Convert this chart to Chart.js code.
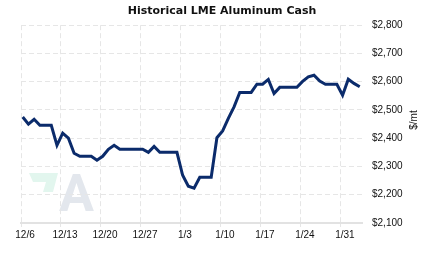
<!DOCTYPE html>
<html>
<head>
<meta charset="utf-8">
<script src="https://cdn.jsdelivr.net/npm/chart.js@4/dist/chart.umd.min.js"></script>
<style>
  html, body { margin: 0; padding: 0; background: #fff; }
  canvas { display: block; }
</style>
</head>
<body>
<canvas id="lmeChart" width="423" height="257"></canvas>
<script>
// daily dates, 12/6 to 2/3 (weekends/holidays carry the last price)
const dates = [
  '12/6','12/7','12/8','12/9','12/10','12/11','12/12','12/13','12/14','12/15',
  '12/16','12/17','12/18','12/19','12/20','12/21','12/22','12/23','12/24','12/25',
  '12/26','12/27','12/28','12/29','12/30','12/31','1/1','1/2','1/3','1/4',
  '1/5','1/6','1/7','1/8','1/9','1/10','1/11','1/12','1/13','1/14',
  '1/15','1/16','1/17','1/18','1/19','1/20','1/21','1/22','1/23','1/24',
  '1/25','1/26','1/27','1/28','1/29','1/30','1/31','2/1','2/2','2/3'
];
const prices = [
  2475, 2450, 2467, 2446, 2446, 2446, 2375, 2418, 2400, 2347,
  2336, 2336, 2336, 2322, 2336, 2361, 2375, 2361, 2361, 2361,
  2361, 2361, 2350, 2371, 2350, 2350, 2350, 2350, 2269, 2230,
  2223, 2262, 2262, 2262, 2402, 2426, 2470, 2511, 2562, 2562,
  2562, 2591, 2591, 2608, 2558, 2580, 2580, 2580, 2580, 2601,
  2617, 2623, 2602, 2591, 2591, 2591, 2552, 2609, 2594, 2582
];
const tickDays = [0, 7, 14, 21, 28, 35, 42, 49, 56];
const yTicks = [2100, 2200, 2300, 2400, 2500, 2600, 2700, 2800];

const chartTitle = 'Historical LME Aluminum Cash';
const unitLabel = '$/mt';

const points = prices.map((p, i) => ({ x: i + 0.3, y: p }));

// faint logo watermark behind the grid
const watermark = {
  id: 'watermark',
  beforeDraw(chart) {
    const ctx = chart.ctx;
    ctx.save();
    ctx.fillStyle = '#e2f6ee';
    ctx.beginPath();
    ctx.moveTo(29, 173);
    ctx.lineTo(58, 173);
    ctx.lineTo(53, 192);
    ctx.lineTo(43, 192);
    ctx.lineTo(46, 182);
    ctx.lineTo(33, 182);
    ctx.closePath();
    ctx.fill();
    ctx.fillStyle = '#e3e7ed';
    ctx.font = 'bold 52px Roboto';
    ctx.textBaseline = 'alphabetic';
    ctx.fillText('A', 59, 211);
    ctx.restore();
  }
};

// unit label on the right, reading bottom to top
const unitTitle = {
  id: 'unitTitle',
  afterDraw(chart) {
    const ctx = chart.ctx;
    ctx.save();
    ctx.translate(414, 120);
    ctx.rotate(-Math.PI / 2);
    ctx.font = '10px "Liberation Sans"';
    ctx.fillStyle = '#111';
    ctx.textAlign = 'center';
    ctx.textBaseline = 'middle';
    ctx.fillText(unitLabel, 0, 0);
    ctx.restore();
  }
};

const ctx = document.getElementById('lmeChart').getContext('2d');
new Chart(ctx, {
  type: 'line',
  data: {
    datasets: [{
      data: points,
      borderColor: '#0b2b6b',
      borderWidth: 3,
      pointRadius: 0,
      tension: 0,
      fill: false
    }]
  },
  options: {
    responsive: false,
    animation: false,
    layout: { padding: { left: 21, right: 0, top: 0, bottom: 0 } },
    plugins: {
      legend: { display: false },
      tooltip: { enabled: false },
      title: {
        display: true,
        text: chartTitle,
        color: '#111',
        font: { family: 'DejaVu Sans', size: 11, weight: 'bold' },
        padding: { top: 5, bottom: 7 }
      }
    },
    scales: {
      x: {
        type: 'linear',
        min: 0,
        max: 59.7,
        afterBuildTicks: (scale) => { scale.ticks = tickDays.map(v => ({ value: v })); },
        afterFit: (scale) => { scale.height = 34; },
        grid: { color: '#e6e6e6', lineWidth: 1, tickLength: 4, drawTicks: true },
        border: { display: true, color: '#e2e2e2', width: 2, dash: [5, 3] },
        ticks: {
          color: '#111',
          font: { family: 'Liberation Sans', size: 10 },
          padding: 2,
          labelOffset: 4,
          maxRotation: 0,
          autoSkip: false,
          callback: (v) => dates[v]
        }
      },
      y: {
        position: 'right',
        min: 2100,
        max: 2800,
        afterBuildTicks: (scale) => { scale.ticks = yTicks.map(v => ({ value: v })); },
        afterFit: (scale) => { scale.width = 61; },
        grid: { color: '#e6e6e6', lineWidth: 1, drawTicks: false },
        border: { display: false, dash: [5, 3] },
        ticks: {
          color: '#111',
          font: { family: 'Liberation Sans', size: 10 },
          padding: 10,
          callback: (v) => '$' + v.toLocaleString('en-US')
        }
      }
    }
  },
  plugins: [watermark, unitTitle]
});
</script>
</body>
</html>
